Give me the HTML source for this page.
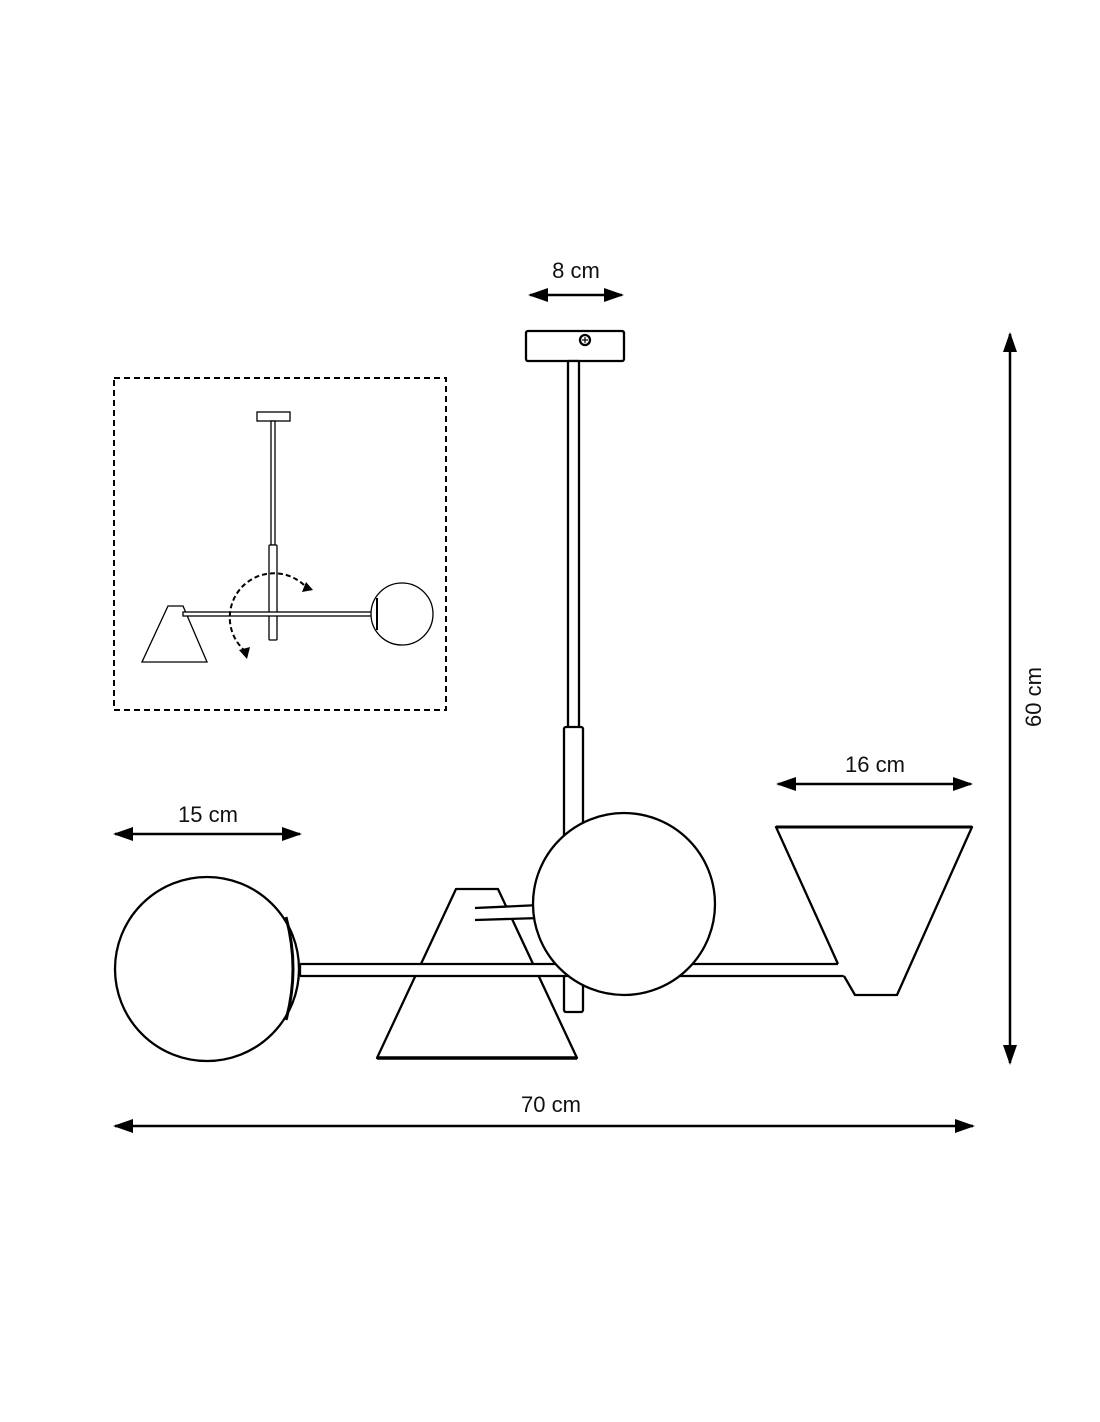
<!DOCTYPE html>
<html><head><meta charset="utf-8"><style>
html,body{margin:0;padding:0;background:#fff;}
svg{display:block;}
text{font-family:"Liberation Sans",sans-serif;font-size:22px;fill:#111;}
</style></head><body>
<svg width="1100" height="1422" viewBox="0 0 1100 1422" xmlns="http://www.w3.org/2000/svg">
<defs>
<marker id="ah2" viewBox="0 0 10 10" refX="9" refY="5" markerWidth="20" markerHeight="14" markerUnits="userSpaceOnUse" orient="auto-start-reverse" preserveAspectRatio="none">
<path d="M0,0 L10,5 L0,10 z" fill="#000"/></marker>
</defs>
<g stroke="#000" fill="none" stroke-width="2.5">
<line x1="530" y1="295" x2="622" y2="295" marker-start="url(#ah2)" marker-end="url(#ah2)"/>
<line x1="115" y1="834" x2="300" y2="834" marker-start="url(#ah2)" marker-end="url(#ah2)"/>
<line x1="778" y1="784" x2="971" y2="784" marker-start="url(#ah2)" marker-end="url(#ah2)"/>
<line x1="115" y1="1126" x2="973" y2="1126" marker-start="url(#ah2)" marker-end="url(#ah2)"/>
<line x1="1010" y1="334" x2="1010" y2="1063" marker-start="url(#ah2)" marker-end="url(#ah2)"/>
</g>
<text x="576" y="278" text-anchor="middle">8 cm</text>
<text x="208" y="822" text-anchor="middle">15 cm</text>
<text x="875" y="772" text-anchor="middle">16 cm</text>
<text x="551" y="1112" text-anchor="middle">70 cm</text>
<text x="0" y="0" text-anchor="middle" transform="translate(1041,697) rotate(-90)">60 cm</text>

<g stroke="#000" stroke-width="2.3" fill="#fff" stroke-linejoin="round">
<rect x="526" y="331" width="98" height="30" rx="2"/>
<circle cx="585" cy="340" r="5"/>
<line x1="582" y1="340" x2="588" y2="340" stroke-width="1.2"/>
<line x1="585" y1="337" x2="585" y2="343" stroke-width="1.2"/>
<rect x="568" y="361" width="11" height="367"/>
<rect x="564" y="727" width="19" height="285" rx="2"/>
<!-- middle cone -->
<path d="M456,889 L498,889 L577,1058 L377,1058 Z"/>
<line x1="377" y1="1058" x2="577" y2="1058" stroke-width="3.5"/>
<path d="M475,908 L540,905 L540,918 L475,920"/>
<!-- main arm -->
<rect x="300" y="964" width="542" height="12" stroke="none"/>
<line x1="300" y1="964" x2="838" y2="964"/>
<line x1="300" y1="976" x2="844" y2="976"/>
<line x1="300" y1="964" x2="300" y2="976"/>
<!-- center globe -->
<circle cx="624" cy="904" r="91"/>
<!-- left globe -->
<circle cx="207" cy="969" r="92"/>
<path d="M286,917 Q300,969 286,1020" fill="none" stroke-width="3"/>
<!-- right cone -->
<path d="M776,827 L972,827 L897,995 L855,995 L844,976 L838,964 Z" stroke="none"/>
<path d="M838,964 L776,827 L972,827 L897,995 L855,995 L844,976" fill="none"/>
<line x1="776" y1="827" x2="972" y2="827" stroke-width="3"/>
</g>

<rect x="114" y="378" width="332" height="332" fill="none" stroke="#000" stroke-width="2" stroke-dasharray="6,4"/>
<g stroke="#000" stroke-width="1.3" fill="#fff">
<rect x="257" y="412" width="33" height="9"/>
<rect x="271" y="421" width="4" height="124"/>
<rect x="269" y="545" width="8" height="95" rx="1"/>
<path d="M168,606 L183,606 L207,662 L142,662 Z"/>
<rect x="183" y="612" width="189" height="4"/>
<circle cx="402" cy="614" r="31"/>
<line x1="377" y1="598" x2="377" y2="630" stroke-width="2"/>
</g>
<path d="M304,585 A41 41 0 1 0 244,650" fill="none" stroke="#000" stroke-width="2" stroke-dasharray="5,3"/>
<path d="M313,590 L302,592 L306,582 Z" fill="#000"/>
<path d="M247,659 L239,650 L250,647 Z" fill="#000"/>
</svg>
</body></html>
